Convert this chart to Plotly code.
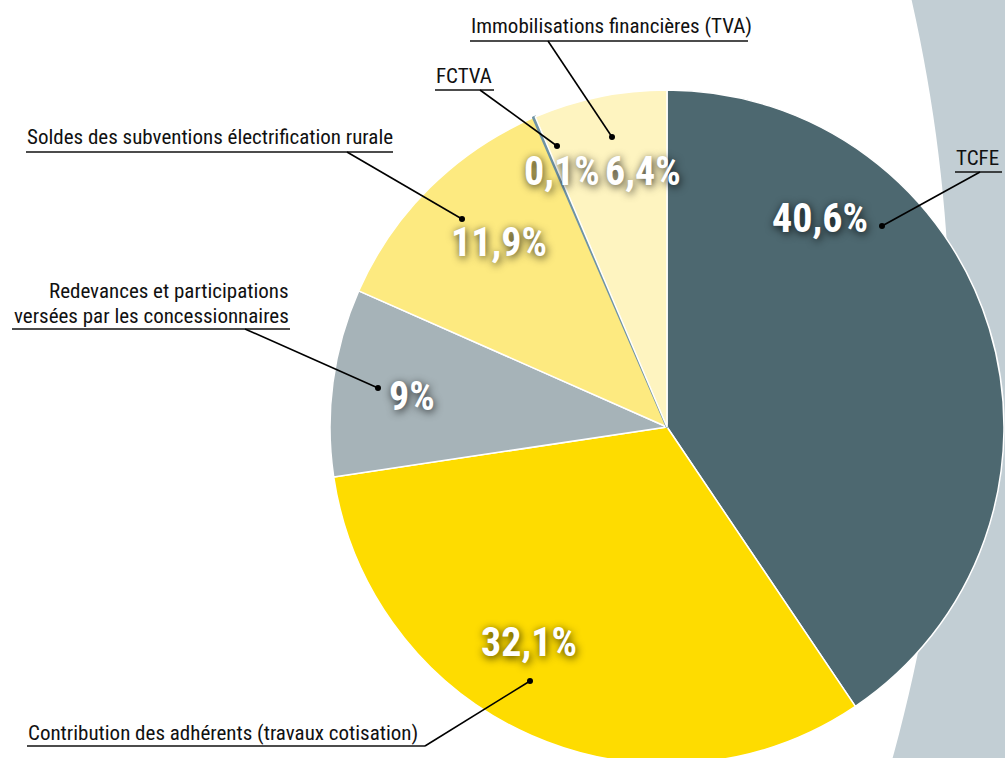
import plotly.graph_objects as go

W, H = 1005, 772

categories = ["TCFE", "Contribution des adhérents (travaux cotisation)",
              "Redevances et participations versées par les concessionnaires",
              "Soldes des subventions électrification rurale", "FCTVA",
              "Immobilisations financières (TVA)"]
values = [40.6, 32.1, 9.0, 11.9, 0.1, 6.4]
pct_labels = ["40,6%", "32,1%", "9%", "11,9%", "0,1%", "6,4%"]
colors = ["#4d6870", "#fedc00", "#a6b3b8", "#fdea80", "#6f93a3", "#fef4c0"]
edge_colors = ["white", "white", "white", "white", "#6f93a3", "white"]

def px(x):
    return x / W

def py(y):
    return 1 - y / H

fig = go.Figure()

# background decoration (curved band on the right)
pts = []
for i in range(0, 41):
    yy = i * H / 40
    xx = 950 - 0.00033 * (yy - 341) ** 2
    pts.append((xx, yy))
path = "M {} {} ".format(px(pts[0][0]), py(pts[0][1]))
for xx, yy in pts[1:]:
    path += "L {} {} ".format(px(xx), py(yy))
path += "L {} {} L {} {} Z".format(px(W + 5), py(H), px(W + 5), py(0))

shapes = [dict(type="path", path=path, xref="paper", yref="paper",
               fillcolor="#c2ced4", line=dict(width=0), layer="below")]

R = 337
cx, cy = 667, 427
fig.add_trace(go.Pie(
    labels=categories, values=values, sort=False, direction="clockwise",
    rotation=0, textinfo="none", hoverinfo="skip",
    marker=dict(colors=colors, line=dict(color=edge_colors, width=[1.5, 1.5, 1.5, 1.5, 2.5, 1.5])),
    domain=dict(x=[px(cx - R), px(cx + R)], y=[py(cy + R), py(cy - R)]),
    showlegend=False,
))

font_narrow = "Liberation Sans Narrow, Roboto Condensed, DejaVu Sans Condensed, Arial Narrow, sans-serif"

annotations = []
# percentage labels
pct_pos = [(820, 218), (529, 642), (412, 396), (499, 242), (562, 171), (643, 171)]
for t, (x, y) in zip(pct_labels, pct_pos):
    annotations.append(dict(
        text="<b>" + t + "</b>", x=px(x), y=py(y), xref="paper", yref="paper",
        showarrow=False, xanchor="center", yanchor="middle",
        font=dict(family=font_narrow, size=40, color="white",
                  shadow="1px 2px 9px rgba(0,0,0,0.8)")))

# outer labels: text, x, y(middle), anchor
outer = [
    ("TCFE", 955, 158, "left"),
    ("Immobilisations financières (TVA)", 470, 26, "left"),
    ("FCTVA", 435, 76, "left"),
    ("Soldes des subventions électrification rurale", 26, 137, "left"),
    ("Redevances et participations", 290, 291, "right"),
    ("versées par les concessionnaires", 290, 316, "right"),
    ("Contribution des adhérents (travaux cotisation)", 27, 733, "left"),
]
for t, x, y, anc in outer:
    annotations.append(dict(
        text=t, x=px(x), y=py(y), xref="paper", yref="paper",
        showarrow=False, xanchor=anc, yanchor="middle", borderpad=0,
        font=dict(family=font_narrow, size=21, color="#111111")))

# underlines and leader lines
underlines = [(955, 1002, 172), (470, 748, 41), (435, 494, 90),
              (26, 393, 152), (12, 290, 329), (27, 425, 746)]
leaders = [((980, 172), (882, 226)), ((548, 41), (612, 137)),
           ((480, 90), (557, 146)), ((347, 152), (462, 219)),
           ((245, 329), (378, 388)), ((425, 746), (530, 681))]
for x0, x1, y in underlines:
    shapes.append(dict(type="line", xref="paper", yref="paper",
                       x0=px(x0), x1=px(x1), y0=py(y), y1=py(y),
                       line=dict(color="#111111", width=1.6)))
for (x0, y0), (x1, y1) in leaders:
    shapes.append(dict(type="line", xref="paper", yref="paper",
                       x0=px(x0), x1=px(x1), y0=py(y0), y1=py(y1),
                       line=dict(color="#000000", width=1.6)))
    r = 3
    shapes.append(dict(type="circle", xref="paper", yref="paper",
                       x0=px(x1 - r), x1=px(x1 + r), y0=py(y1 + r), y1=py(y1 - r),
                       fillcolor="#000000", line=dict(width=0)))

fig.update_layout(
    width=W, height=H, margin=dict(l=0, r=0, t=0, b=0),
    paper_bgcolor="white", plot_bgcolor="white",
    shapes=shapes, annotations=annotations,
)

fig.write_html("out.html", config={"displayModeBar": False}, post_script=
    "document.body.style.margin='0';document.body.style.overflow='hidden';"
    "document.documentElement.style.overflow='hidden';")
